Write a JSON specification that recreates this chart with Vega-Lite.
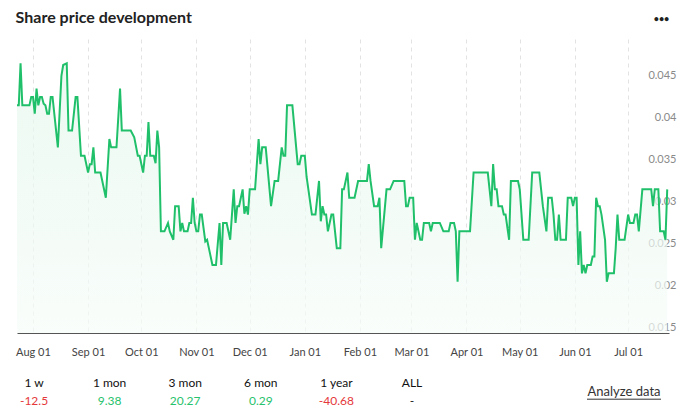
{
  "$schema": "https://vega.github.io/schema/vega-lite/v6.json",
  "background": "white",
  "padding": {"left": 15, "top": 10, "right": 5, "bottom": 5},
  "title": {"text": "Share price development", "anchor": "start", "font": "Lato", "fontSize": 16, "fontWeight": 700, "color": "#222222", "offset": -12},
  "config": {"view": {"stroke": null}, "font": "Lato"},
  "spacing": 17,
  "vconcat": [
    {
      "width": 652,
      "height": 294,
      "data": {
        "values": [
          {"date": "2023-07-23", "price": 0.042}, {"date": "2023-07-24", "price": 0.042}, {"date": "2023-07-25", "price": 0.047}, {"date": "2023-07-26", "price": 0.042},
          {"date": "2023-07-30", "price": 0.042}, {"date": "2023-07-31", "price": 0.043}, {"date": "2023-08-01", "price": 0.043}, {"date": "2023-08-02", "price": 0.041},
          {"date": "2023-08-03", "price": 0.044}, {"date": "2023-08-04", "price": 0.042}, {"date": "2023-08-05", "price": 0.043}, {"date": "2023-08-06", "price": 0.043},
          {"date": "2023-08-07", "price": 0.0422}, {"date": "2023-08-08", "price": 0.042}, {"date": "2023-08-09", "price": 0.041}, {"date": "2023-08-10", "price": 0.041},
          {"date": "2023-08-11", "price": 0.043}, {"date": "2023-08-12", "price": 0.043}, {"date": "2023-08-15", "price": 0.037}, {"date": "2023-08-17", "price": 0.0455},
          {"date": "2023-08-18", "price": 0.0468}, {"date": "2023-08-20", "price": 0.047}, {"date": "2023-08-21", "price": 0.039}, {"date": "2023-08-23", "price": 0.039},
          {"date": "2023-08-25", "price": 0.043}, {"date": "2023-08-26", "price": 0.043}, {"date": "2023-08-28", "price": 0.036}, {"date": "2023-08-30", "price": 0.036},
          {"date": "2023-09-01", "price": 0.034}, {"date": "2023-09-02", "price": 0.035}, {"date": "2023-09-03", "price": 0.035}, {"date": "2023-09-04", "price": 0.037},
          {"date": "2023-09-05", "price": 0.034}, {"date": "2023-09-08", "price": 0.034}, {"date": "2023-09-11", "price": 0.031}, {"date": "2023-09-13", "price": 0.038},
          {"date": "2023-09-14", "price": 0.037}, {"date": "2023-09-17", "price": 0.037}, {"date": "2023-09-19", "price": 0.044}, {"date": "2023-09-20", "price": 0.039},
          {"date": "2023-09-25", "price": 0.039}, {"date": "2023-09-27", "price": 0.0382}, {"date": "2023-09-29", "price": 0.036}, {"date": "2023-09-30", "price": 0.036},
          {"date": "2023-10-02", "price": 0.034}, {"date": "2023-10-03", "price": 0.036}, {"date": "2023-10-04", "price": 0.036}, {"date": "2023-10-05", "price": 0.040},
          {"date": "2023-10-06", "price": 0.036}, {"date": "2023-10-08", "price": 0.036}, {"date": "2023-10-09", "price": 0.0351}, {"date": "2023-10-10", "price": 0.039},
          {"date": "2023-10-11", "price": 0.037}, {"date": "2023-10-12", "price": 0.027}, {"date": "2023-10-14", "price": 0.027}, {"date": "2023-10-16", "price": 0.028},
          {"date": "2023-10-17", "price": 0.027}, {"date": "2023-10-19", "price": 0.026}, {"date": "2023-10-20", "price": 0.030}, {"date": "2023-10-22", "price": 0.030},
          {"date": "2023-10-23", "price": 0.027}, {"date": "2023-10-24", "price": 0.028}, {"date": "2023-10-25", "price": 0.027}, {"date": "2023-10-27", "price": 0.027},
          {"date": "2023-10-28", "price": 0.028}, {"date": "2023-10-29", "price": 0.028}, {"date": "2023-10-30", "price": 0.031}, {"date": "2023-10-31", "price": 0.028},
          {"date": "2023-11-01", "price": 0.027}, {"date": "2023-11-02", "price": 0.027}, {"date": "2023-11-03", "price": 0.029}, {"date": "2023-11-04", "price": 0.029},
          {"date": "2023-11-06", "price": 0.0258}, {"date": "2023-11-07", "price": 0.026}, {"date": "2023-11-08", "price": 0.025}, {"date": "2023-11-10", "price": 0.023},
          {"date": "2023-11-12", "price": 0.023}, {"date": "2023-11-14", "price": 0.028}, {"date": "2023-11-15", "price": 0.023}, {"date": "2023-11-16", "price": 0.028},
          {"date": "2023-11-18", "price": 0.028}, {"date": "2023-11-20", "price": 0.026}, {"date": "2023-11-22", "price": 0.032}, {"date": "2023-11-23", "price": 0.028},
          {"date": "2023-11-24", "price": 0.030}, {"date": "2023-11-25", "price": 0.030}, {"date": "2023-11-27", "price": 0.032}, {"date": "2023-11-28", "price": 0.0291},
          {"date": "2023-11-29", "price": 0.030}, {"date": "2023-11-30", "price": 0.029}, {"date": "2023-12-01", "price": 0.032}, {"date": "2023-12-04", "price": 0.032},
          {"date": "2023-12-06", "price": 0.038}, {"date": "2023-12-07", "price": 0.035}, {"date": "2023-12-08", "price": 0.037}, {"date": "2023-12-10", "price": 0.037},
          {"date": "2023-12-13", "price": 0.030}, {"date": "2023-12-15", "price": 0.033}, {"date": "2023-12-17", "price": 0.033}, {"date": "2023-12-19", "price": 0.037},
          {"date": "2023-12-20", "price": 0.036}, {"date": "2023-12-21", "price": 0.036}, {"date": "2023-12-22", "price": 0.042}, {"date": "2023-12-25", "price": 0.042},
          {"date": "2023-12-28", "price": 0.035}, {"date": "2023-12-29", "price": 0.035}, {"date": "2023-12-30", "price": 0.036}, {"date": "2024-01-01", "price": 0.036},
          {"date": "2024-01-02", "price": 0.0335}, {"date": "2024-01-05", "price": 0.029}, {"date": "2024-01-07", "price": 0.029}, {"date": "2024-01-09", "price": 0.033},
          {"date": "2024-01-10", "price": 0.0282}, {"date": "2024-01-11", "price": 0.030}, {"date": "2024-01-12", "price": 0.029}, {"date": "2024-01-13", "price": 0.029},
          {"date": "2024-01-14", "price": 0.027}, {"date": "2024-01-16", "price": 0.029}, {"date": "2024-01-17", "price": 0.029}, {"date": "2024-01-19", "price": 0.025},
          {"date": "2024-01-21", "price": 0.025}, {"date": "2024-01-22", "price": 0.032}, {"date": "2024-01-23", "price": 0.032}, {"date": "2024-01-25", "price": 0.034},
          {"date": "2024-01-26", "price": 0.031}, {"date": "2024-01-29", "price": 0.031}, {"date": "2024-01-31", "price": 0.033}, {"date": "2024-02-05", "price": 0.033},
          {"date": "2024-02-06", "price": 0.035}, {"date": "2024-02-07", "price": 0.033}, {"date": "2024-02-09", "price": 0.030}, {"date": "2024-02-11", "price": 0.030},
          {"date": "2024-02-12", "price": 0.031}, {"date": "2024-02-13", "price": 0.025}, {"date": "2024-02-16", "price": 0.032}, {"date": "2024-02-18", "price": 0.032},
          {"date": "2024-02-20", "price": 0.033}, {"date": "2024-02-26", "price": 0.033}, {"date": "2024-02-27", "price": 0.030}, {"date": "2024-02-28", "price": 0.030},
          {"date": "2024-02-29", "price": 0.031}, {"date": "2024-03-02", "price": 0.031}, {"date": "2024-03-03", "price": 0.026}, {"date": "2024-03-04", "price": 0.028},
          {"date": "2024-03-06", "price": 0.026}, {"date": "2024-03-07", "price": 0.026}, {"date": "2024-03-08", "price": 0.028}, {"date": "2024-03-11", "price": 0.028},
          {"date": "2024-03-12", "price": 0.027}, {"date": "2024-03-13", "price": 0.028}, {"date": "2024-03-17", "price": 0.028}, {"date": "2024-03-19", "price": 0.027},
          {"date": "2024-03-22", "price": 0.027}, {"date": "2024-03-23", "price": 0.028}, {"date": "2024-03-25", "price": 0.028}, {"date": "2024-03-26", "price": 0.027},
          {"date": "2024-03-27", "price": 0.021}, {"date": "2024-03-28", "price": 0.027}, {"date": "2024-04-03", "price": 0.027}, {"date": "2024-04-05", "price": 0.034},
          {"date": "2024-04-13", "price": 0.034}, {"date": "2024-04-15", "price": 0.030}, {"date": "2024-04-16", "price": 0.035}, {"date": "2024-04-17", "price": 0.032},
          {"date": "2024-04-18", "price": 0.032}, {"date": "2024-04-19", "price": 0.030}, {"date": "2024-04-21", "price": 0.030}, {"date": "2024-04-22", "price": 0.029},
          {"date": "2024-04-23", "price": 0.029}, {"date": "2024-04-25", "price": 0.026}, {"date": "2024-04-26", "price": 0.033}, {"date": "2024-04-30", "price": 0.033},
          {"date": "2024-05-01", "price": 0.032}, {"date": "2024-05-03", "price": 0.026}, {"date": "2024-05-06", "price": 0.026}, {"date": "2024-05-08", "price": 0.034},
          {"date": "2024-05-12", "price": 0.034}, {"date": "2024-05-14", "price": 0.030}, {"date": "2024-05-16", "price": 0.027}, {"date": "2024-05-17", "price": 0.031},
          {"date": "2024-05-19", "price": 0.031}, {"date": "2024-05-20", "price": 0.029}, {"date": "2024-05-21", "price": 0.026}, {"date": "2024-05-22", "price": 0.026},
          {"date": "2024-05-23", "price": 0.029}, {"date": "2024-05-24", "price": 0.026}, {"date": "2024-05-27", "price": 0.026}, {"date": "2024-05-28", "price": 0.031},
          {"date": "2024-05-30", "price": 0.031}, {"date": "2024-05-31", "price": 0.030}, {"date": "2024-06-01", "price": 0.031}, {"date": "2024-06-02", "price": 0.031},
          {"date": "2024-06-03", "price": 0.023}, {"date": "2024-06-04", "price": 0.027}, {"date": "2024-06-05", "price": 0.022}, {"date": "2024-06-06", "price": 0.023},
          {"date": "2024-06-07", "price": 0.022}, {"date": "2024-06-08", "price": 0.023}, {"date": "2024-06-10", "price": 0.023}, {"date": "2024-06-11", "price": 0.024},
          {"date": "2024-06-12", "price": 0.024}, {"date": "2024-06-13", "price": 0.031}, {"date": "2024-06-14", "price": 0.030}, {"date": "2024-06-15", "price": 0.030},
          {"date": "2024-06-16", "price": 0.029}, {"date": "2024-06-18", "price": 0.026}, {"date": "2024-06-19", "price": 0.021}, {"date": "2024-06-20", "price": 0.022},
          {"date": "2024-06-23", "price": 0.022}, {"date": "2024-06-24", "price": 0.025}, {"date": "2024-06-25", "price": 0.029}, {"date": "2024-06-26", "price": 0.026},
          {"date": "2024-06-29", "price": 0.026}, {"date": "2024-07-01", "price": 0.029}, {"date": "2024-07-02", "price": 0.028}, {"date": "2024-07-04", "price": 0.028},
          {"date": "2024-07-05", "price": 0.029}, {"date": "2024-07-06", "price": 0.029}, {"date": "2024-07-07", "price": 0.027}, {"date": "2024-07-09", "price": 0.032},
          {"date": "2024-07-14", "price": 0.032}, {"date": "2024-07-15", "price": 0.030}, {"date": "2024-07-16", "price": 0.032}, {"date": "2024-07-18", "price": 0.032},
          {"date": "2024-07-19", "price": 0.027}, {"date": "2024-07-21", "price": 0.027}, {"date": "2024-07-22", "price": 0.026}, {"date": "2024-07-23", "price": 0.032}
        ],
        "format": {"parse": {"date": "date:'%Y-%m-%d'"}}
      },
      "mark": {
        "type": "area",
        "clip": true,
        "interpolate": "linear",
        "line": {"color": "#20c06b", "strokeWidth": 2},
        "color": {"gradient": "linear", "x1": 0, "y1": 0, "x2": 0, "y2": 1, "stops": [{"offset": 0, "color": "#e4f7ec"}, {"offset": 1, "color": "#ffffff"}]}
      },
      "encoding": {
        "x": {
          "field": "date", "type": "temporal",
          "scale": {"domain": [{"year": 2023, "month": 7, "date": 23}, {"year": 2024, "month": 7, "date": 24}]},
          "axis": {"title": null, "format": "%b %d", "tickCount": {"interval": "month", "step": 1}, "grid": true, "gridDash": [4, 4], "gridColor": "#e2e2e2", "gridWidth": 1, "ticks": false, "tickSize": 0, "domainColor": "#555555", "domainWidth": 1.2, "labelColor": "#444444", "labelFontSize": 11, "labelFont": "Lato", "labelPadding": 13, "labelFlush": false, "labelOverlap": false}
        },
        "y": {
          "field": "price", "type": "quantitative",
          "scale": {"domain": [0.0149, 0.0499], "nice": false, "zero": false},
          "axis": {"orient": "right", "values": [0.015, 0.02, 0.025, 0.03, 0.035, 0.04, 0.045], "format": "~g", "domain": false, "ticks": false, "tickSize": 0, "grid": false, "labelAlign": "right", "labelBaseline": "middle", "labelPadding": 7, "labelOffset": -5, "labelColor": "#8a8a8a", "labelFontSize": 11, "labelFont": "Lato",
                   "title": "•••", "titleAngle": 0, "titleX": -8, "titleY": -21, "titleAlign": "center", "titleBaseline": "middle", "titleFontSize": 9, "titleFontWeight": "bold", "titleColor": "#222222", "titlePadding": 0}
        }
      }
    },
    {
      "spacing": 157,
      "hconcat": [
        {
          "width": 412,
          "height": 36,
          "data": {"values": [
            {"period": "1 w", "change": "-12.5", "dir": "down"},
            {"period": "1 mon", "change": "9.38", "dir": "up"},
            {"period": "3 mon", "change": "20.27", "dir": "up"},
            {"period": "6 mon", "change": "0.29", "dir": "up"},
            {"period": "1 year", "change": "-40.68", "dir": "down"},
            {"period": "ALL", "change": "-", "dir": "none"}
          ]},
          "encoding": {"x": {"field": "period", "type": "nominal", "sort": null, "scale": {"type": "point", "padding": 0.225}, "axis": null}},
          "layer": [
            {"mark": {"type": "text", "fontSize": 12, "font": "Lato", "fontWeight": 400, "color": "#111111"},
             "encoding": {"y": {"datum": "label", "type": "nominal", "scale": {"type": "point", "domain": ["label", "value"], "padding": 0.5}, "axis": null}, "text": {"field": "period"}}},
            {"mark": {"type": "text", "fontSize": 12, "font": "Lato"},
             "encoding": {"y": {"datum": "value", "type": "nominal"}, "text": {"field": "change"},
                          "color": {"field": "dir", "type": "nominal", "scale": {"domain": ["down", "up", "none"], "range": ["#e5383b", "#27c26c", "#222222"]}, "legend": null}}}
          ]
        },
        {
          "width": 74,
          "height": 36,
          "data": {"values": [{"label": "Analyze data"}]},
          "layer": [
            {"mark": {"type": "text", "fontSize": 13, "font": "Lato", "color": "#333333"},
             "encoding": {"x": {"datum": 0.5, "type": "quantitative", "scale": {"domain": [0, 1], "nice": false}, "axis": null},
                          "y": {"datum": 0.5, "type": "quantitative", "scale": {"domain": [0, 1], "nice": false}, "axis": null},
                          "text": {"field": "label"}}},
            {"mark": {"type": "rule", "color": "#333333", "strokeWidth": 1},
             "encoding": {"x": {"datum": 0, "type": "quantitative"}, "x2": {"datum": 1}, "y": {"datum": 0.3, "type": "quantitative"}}}
          ]
        }
      ]
    }
  ]
}
